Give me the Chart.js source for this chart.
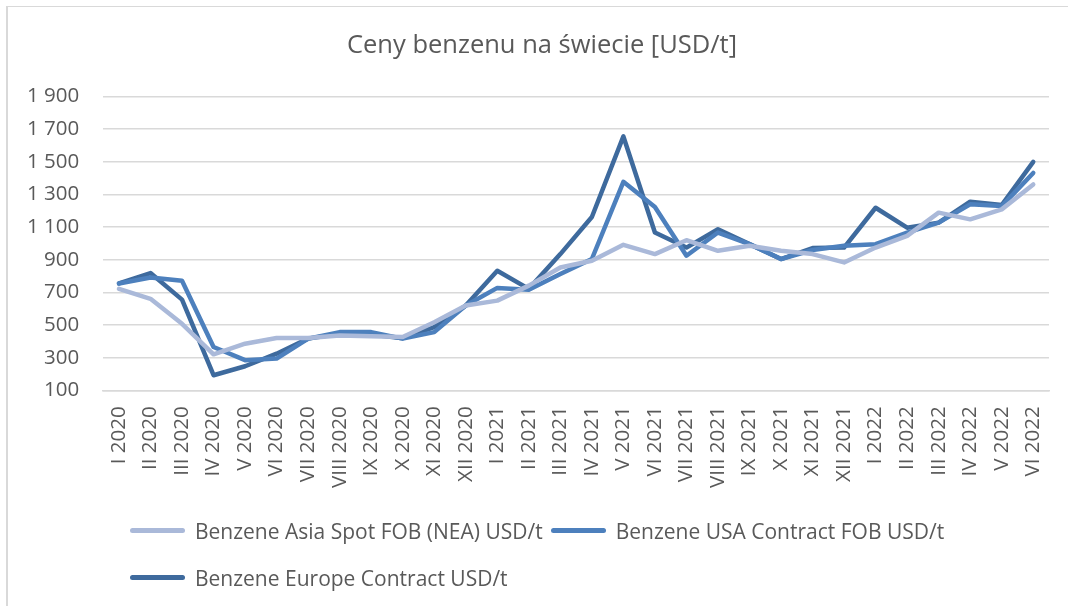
<!DOCTYPE html>
<html>
<head>
<meta charset="utf-8">
<script src="https://cdn.jsdelivr.net/npm/chart.js@4.4.1/dist/chart.umd.min.js"></script>
<style>
  body { margin: 0; background: #fff; }
  #wrap { position: relative; width: 1068px; height: 606px; overflow: hidden; }
  #frame { position: absolute; left: 6px; top: 6px; right: -10px; bottom: -10px; border-left: 2px solid #d9d9d9; border-top: 1px solid #d9d9d9; }
  #chart { position: absolute; left: 0; top: 0; }
  #legend { position: absolute; left: 130px; top: 511px; width: 900px; font-family: "Open Sans", sans-serif; font-size: 21px; color: #595959; }
  .item { display: inline-flex; align-items: center; height: 33px; margin-right: 8px; margin-bottom: 11px; }
  .swatch { display: inline-block; width: 55px; height: 5px; border-radius: 3px; margin-right: 10px; }
</style>
</head>
<body>
<div id="wrap">
  <div id="frame"></div>
  <canvas id="chart" width="1068" height="606"></canvas>
  <div id="legend"></div>
</div>
<script>
const xlabels = [
  `I 2020`, `II 2020`, `III 2020`, `IV 2020`, `V 2020`, `VI 2020`, `VII 2020`, `VIII 2020`, `IX 2020`, `X 2020`, `XI 2020`, `XII 2020`,
  `I 2021`, `II 2021`, `III 2021`, `IV 2021`, `V 2021`, `VI 2021`, `VII 2021`, `VIII 2021`, `IX 2021`, `X 2021`, `XI 2021`, `XII 2021`,
  `I 2022`, `II 2022`, `III 2022`, `IV 2022`, `V 2022`, `VI 2022`,
];
const asiaSpot = [722, 661, 508, 321, 386, 421, 421, 437, 432, 427, 518, 620, 650, 742, 853, 894, 992, 935, 1020, 955, 986, 955, 935, 884, 975, 1047, 1189, 1148, 1209, 1362];
const usaContract = [755, 792, 772, 366, 285, 295, 417, 457, 457, 417, 457, 620, 728, 716, 813, 905, 1378, 1223, 925, 1067, 996, 905, 960, 986, 996, 1067, 1128, 1240, 1229, 1432];
const europeContract = [756, 819, 656, 193, 248, 325, 417, 447, 443, 420, 488, 620, 833, 722, 935, 1162, 1656, 1067, 975, 1087, 996, 905, 972, 975, 1219, 1097, 1128, 1256, 1236, 1500];
const seriesNames = [`Benzene Asia Spot FOB (NEA) USD/t`, `Benzene USA Contract FOB USD/t`, `Benzene Europe Contract USD/t`];
const seriesColors = [`#aab9d9`, `#4d80bd`, `#3e6a9d`];
const yTicks = { min: 100, max: 1900, step: 200 };

const textColor = `#595959`;
const gridColor = `#d9d9d9`;

function formatThousands(v) {
  if (v < 1000) return `` + v;
  return Math.floor(v / 1000) + ` ` + String(v % 1000).padStart(3, `0`);
}

const seriesData = [asiaSpot, usaContract, europeContract];
const datasets = seriesData.map((values, i) => ({
  label: seriesNames[i],
  data: values,
  borderColor: seriesColors[i],
  backgroundColor: seriesColors[i],
  borderWidth: 4.5,
  borderCapStyle: `round`,
  borderJoinStyle: `round`,
  pointRadius: 0,
  tension: 0,
}));

// the title in the original sits a bit right of the canvas centre
const shiftTitle = {
  id: `shiftTitle`,
  afterLayout(chart) {
    if (chart.titleBlock) chart.titleBlock.left += 32;
  },
};

const ctx = document.getElementById(`chart`).getContext(`2d`);
const myChart = new Chart(ctx, {
  type: `line`,
  data: { labels: xlabels, datasets: datasets },
  plugins: [shiftTitle],
  options: {
    responsive: false,
    animation: false,
    layout: { padding: { left: 3, right: 19, top: 0, bottom: 110 } },
    plugins: {
      legend: { display: false },
      tooltip: { enabled: false },
      title: {
        display: true,
        text: `Ceny benzenu na świecie [USD/t]`,
        color: textColor,
        font: { family: `Open Sans`, size: 25.5, weight: `normal` },
        padding: { top: 30, bottom: 36 },
      },
    },
    scales: {
      x: {
        offset: true,
        grid: { display: false },
        border: { display: true, color: gridColor, width: 1.5 },
        ticks: {
          color: textColor,
          autoSkip: false,
          maxRotation: 90,
          minRotation: 90,
          padding: 8,
          font: { family: `Open Sans`, size: 20.5 },
        },
      },
      y: {
        min: yTicks.min,
        max: yTicks.max,
        grid: { color: gridColor, lineWidth: 1.5, drawTicks: false },
        border: { display: false },
        ticks: {
          stepSize: yTicks.step,
          color: textColor,
          padding: 24,
          font: { family: `Open Sans`, size: 20.5 },
          callback: (v) => formatThousands(v),
        },
      },
    },
  },
});

const legend = document.getElementById(`legend`);
myChart.data.datasets.forEach((ds) => {
  const item = document.createElement(`span`);
  item.className = `item`;
  const swatch = document.createElement(`span`);
  swatch.className = `swatch`;
  swatch.style.background = ds.borderColor;
  const text = document.createElement(`span`);
  text.innerText = ds.label;
  item.appendChild(swatch);
  item.appendChild(text);
  legend.appendChild(item);
});
</script>
</body>
</html>
